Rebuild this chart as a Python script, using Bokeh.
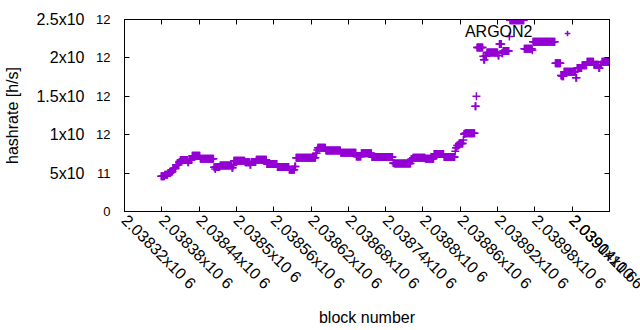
import numpy as np
from math import pi
from bokeh.plotting import figure
from bokeh.models import Range1d, LinearAxis, FixedTicker, Label, Legend, LegendItem
from bokeh.core.properties import value
from bokeh.embed import file_html
from bokeh.resources import INLINE

# ---- data (run-length encoded: each block from run_start[i] up to the next start has run_value[i]) ----
run_start = [2038379, 2038385, 2038390, 2038395, 2038398, 2038403, 2038408, 2038410, 2038422, 2038424,
             2038429, 2038442, 2038464, 2038466, 2038467, 2038474, 2038493, 2038495, 2038496, 2038514,
             2038522, 2038524, 2038532, 2038549, 2038566, 2038585, 2038594, 2038596, 2038628, 2038630,
             2038631, 2038644, 2038668, 2038693, 2038701, 2038718, 2038752, 2038754, 2038781, 2038784,
             2038804, 2038818, 2038834, 2038852, 2038853, 2038855, 2038858, 2038865, 2038866, 2038868,
             2038884, 2038886, 2038887, 2038897, 2038898, 2038900, 2038903, 2038921, 2038923, 2038927,
             2038929, 2038939, 2038940, 2038963, 2038976, 2038977, 2039013, 2039022, 2039024, 2039027,
             2039046, 2039048, 2039056, 2039064, 2039075, 2039083, 2039085, 2039088]
run_value = [0.46, 0.48, 0.50, 0.52, 0.56, 0.61, 0.64, 0.67, 0.64, 0.67,
             0.725, 0.686, 0.575, 0.555, 0.58, 0.60, 0.57, 0.60, 0.66, 0.64,
             0.61, 0.645, 0.673, 0.62, 0.58, 0.545, 0.586, 0.70, 0.76, 0.80,
             0.83, 0.794, 0.764, 0.716, 0.76, 0.71, 0.63, 0.625, 0.68, 0.70,
             0.686, 0.75, 0.71, 0.785, 0.83, 0.86, 0.885, 0.93, 1.01, 1.02,
             1.37, 1.50, 2.135, 2.02, 1.975, 2.02, 2.07, 2.03, 2.18, 2.06,
             2.09, 2.28, 2.49, 2.12, 2.10, 2.21, 1.93, 1.77, 1.76, 1.82,
             1.74, 1.87, 1.905, 1.95, 1.91, 1.87, 1.91, 1.95]
last_block = 2039100
value_scale = 1e12

x_ticks = [2038320, 2038380, 2038440, 2038500, 2038560, 2038620, 2038680,
           2038740, 2038800, 2038860, 2038920, 2038980, 2039040, 2039100]
x_tick_labels = ["2.03832x10 6", "2.03838x10 6", "2.03844x10 6", "2.0385x10 6",
                 "2.03856x10 6", "2.03862x10 6", "2.03868x10 6", "2.03874x10 6",
                 "2.0388x10 6", "2.03886x10 6", "2.03892x10 6", "2.03898x10 6",
                 "2.03904x10 6", "2.0391x10 6"]
y_ticks = [0, 0.5e12, 1.0e12, 1.5e12, 2.0e12, 2.5e12]
y_tick_main = ["", "5x10", "1x10", "1.5x10", "2x10", "2.5x10"]
y_tick_exp = ["0", "11", "12", "12", "12", "12"]
series_name = "ARGON2"

# ---- expand runs to one point per block ----
starts = np.array(run_start)
ends = np.append(starts[1:], last_block + 1)
blocks = np.concatenate([np.arange(s, e) for s, e in zip(starts, ends)])
values = np.repeat(np.array(run_value) * value_scale, ends - starts)

FONT = "Liberation Sans"
COLOR = "#9400d3"

p = figure(width=640, height=330, output_backend="svg", toolbar_location=None,
           x_range=Range1d(x_ticks[0], x_ticks[-1]), y_range=Range1d(y_ticks[0], y_ticks[-1]),
           min_border_left=124, min_border_right=31, min_border_top=19, min_border_bottom=119)
p.xgrid.visible = False
p.ygrid.visible = False
p.outline_line_color = "black"
p.outline_line_alpha = 1.0
p.background_fill_color = "white"
p.border_fill_color = "white"

r = p.scatter(blocks, values, marker="cross", size=8, line_color=COLOR, line_width=1.5)

# bottom axis
xa = p.xaxis[0]
xa.ticker = FixedTicker(ticks=x_ticks)
xa.major_label_overrides = {t: s for t, s in zip(x_ticks, x_tick_labels)}
xa.major_label_orientation = -pi / 4
xa.major_label_text_font = FONT
xa.major_label_text_font_size = "16px"
xa.major_label_text_color = "black"
xa.major_label_standoff = 6
xa.major_tick_in = 5
xa.major_tick_out = 0
xa.minor_tick_line_color = None
xa.axis_line_color = "black"
xa.major_tick_line_color = "black"
xa.axis_label = "block number"
xa.axis_label_text_font = FONT
xa.axis_label_text_font_size = "16px"
xa.axis_label_text_font_style = "normal"
xa.axis_label_text_color = "black"
xa.axis_label_standoff = 8

# left axis: ticks only (labels are shown by two further axes: exponent + mantissa)
ya = p.yaxis[0]
ya.ticker = FixedTicker(ticks=y_ticks)
ya.major_label_overrides = {t: "" for t in y_ticks}
ya.major_label_text_font_size = "0px"
ya.major_label_standoff = 0
ya.major_tick_in = 5
ya.major_tick_out = 0
ya.minor_tick_line_color = None
ya.axis_line_color = "black"
ya.major_tick_line_color = "black"

# exponent labels (smaller, sitting on the tick line)
ea = LinearAxis(ticker=FixedTicker(ticks=y_ticks),
                major_label_overrides={t: s for t, s in zip(y_ticks, y_tick_exp)},
                major_label_text_font=FONT, major_label_text_font_size="13px",
                major_label_text_color="black", major_label_standoff=14,
                major_label_text_baseline="alphabetic",
                major_tick_in=0, major_tick_out=0, axis_line_color=None,
                major_tick_line_color=None, minor_tick_line_color=None)
p.add_layout(ea, "left")

ma = LinearAxis(ticker=FixedTicker(ticks=y_ticks),
                major_label_overrides={t: s for t, s in zip(y_ticks, y_tick_main)},
                major_label_text_font=FONT, major_label_text_font_size="16px",
                major_label_text_color="black", major_label_standoff=9,
                major_tick_in=0, major_tick_out=0, axis_line_color=None,
                major_tick_line_color=None, minor_tick_line_color=None,
                axis_label="hashrate [h/s]", axis_label_text_font=FONT,
                axis_label_text_font_size="16px", axis_label_text_font_style="normal",
                axis_label_text_color="black", axis_label_standoff=12)
p.add_layout(ma, "left")

# mirrored ticks (top / right)
top = LinearAxis(ticker=FixedTicker(ticks=x_ticks), major_label_overrides={t: "" for t in x_ticks},
                 major_label_text_font_size="0px", major_label_standoff=0,
                 major_tick_in=5, major_tick_out=0, minor_tick_line_color=None,
                 axis_line_color="black", major_tick_line_color="black")
p.add_layout(top, "above")
right = LinearAxis(ticker=FixedTicker(ticks=y_ticks), major_label_overrides={t: "" for t in y_ticks},
                   major_label_text_font_size="0px", major_label_standoff=0,
                   major_tick_in=5, major_tick_out=0, minor_tick_line_color=None,
                   axis_line_color="black", major_tick_line_color="black")
p.add_layout(right, "right")

# key: text then sample marker (gnuplot style)
p.add_layout(Label(x=408, y=180, x_units="screen", y_units="screen", text=series_name,
                   text_align="right", text_baseline="middle",
                   text_font=FONT, text_font_size="16px", text_color="black"))
legend = Legend(items=[LegendItem(label=value(" "), renderers=[r])], location=(436, 171),
                glyph_width=14, glyph_height=14, padding=0, margin=0, spacing=0,
                label_text_font_size="1px", label_height=14, label_width=1, label_standoff=0,
                border_line_color=None, background_fill_alpha=0)
p.add_layout(legend)

open("out.html", "w").write(file_html(p, INLINE))
